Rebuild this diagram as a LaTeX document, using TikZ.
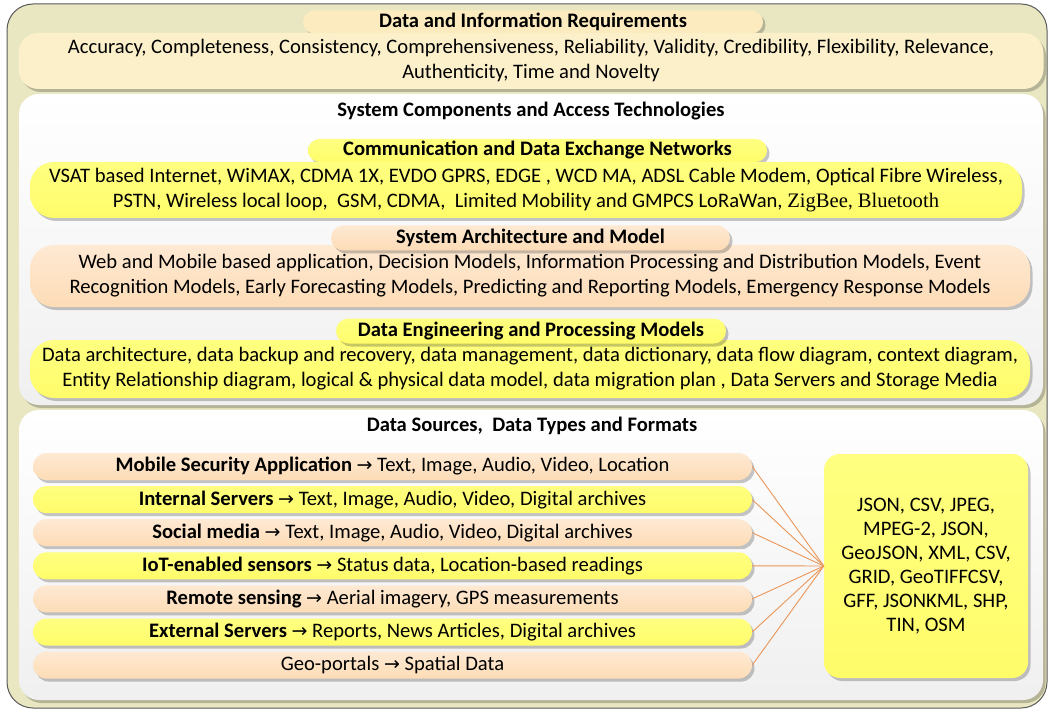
\documentclass[tikz,border=0pt]{standalone}
\usepackage{fontspec}
\setmainfont{Carlito}
\newfontfamily\serifft{Liberation Serif}
\newfontfamily\arrowft{DejaVu Sans}
\usetikzlibrary{shadows}
\definecolor{outerfill}{HTML}{E9E7C1}
\definecolor{outerdraw}{HTML}{5A5A5A}
\definecolor{reqtabc}{HTML}{FCEBBE}
\definecolor{reqbodyc}{HTML}{FCF0CB}
\definecolor{yel}{HTML}{FFFF80}
\definecolor{yeldark}{HTML}{FFFC6A}
\definecolor{peach}{HTML}{FDDCB6}
\definecolor{peachlight}{HTML}{FEE9D3}
\definecolor{linkc}{HTML}{EA9658}
\newcommand{\ar}{{\arrowft\fontsize{19}{19}\selectfont →}}
\tikzset{
  txt/.style={font=\fontsize{20.6}{25}\selectfont, align=center, inner sep=0pt},
  shd/.style={drop shadow={opacity=0.22, shadow xshift=2.5pt, shadow yshift=-3pt, fill=black}},
  panel/.style={rounded corners=20pt, shade, top color=white, bottom color=black!6, shd},
  tabbox/.style={rectangle, rounded corners=11.5pt, minimum height=23pt, shd, txt, font=\bfseries\fontsize{20.6}{25}\selectfont},
  bodybox/.style={rectangle, rounded corners=24pt, shd, txt},
  yelbox/.style={shade, top color=yel, bottom color=yeldark},
  peachbox/.style={shade, top color=peachlight, bottom color=peach},
  rowbox/.style={rectangle, rounded corners=13.5pt, minimum width=719pt, minimum height=27pt, shd, txt},
  link/.style={draw=linkc, line width=0.9pt},
}
\begin{document}
\begin{tikzpicture}[x=1pt,y=-1pt]
\useasboundingbox (0,0) rectangle (1049,711);
% outer frame
\draw[fill=outerfill, draw=outerdraw, line width=1pt, rounded corners=26pt] (7,4) rectangle (1047,708);

% requirements
\node[tabbox, fill=reqtabc, minimum width=460pt] (reqtab) at (533,22) {Data and Information Requirements};
\node[bodybox, fill=reqbodyc, minimum width=1025pt, minimum height=56pt, rounded corners=20pt] (req) at (531,61)
  {Accuracy, Completeness, Consistency, Comprehensiveness, Reliability, Validity, Credibility, Flexibility, Relevance,\\Authenticity, Time and Novelty};

% panel 2
\path[panel] (19,94) rectangle (1043,405);
\node[txt, font=\bfseries\fontsize{20.6}{25}\selectfont] (systitle) at (531,111) {System Components and Access Technologies};

\node[tabbox, yelbox, minimum width=459pt] (commtab) at (537.5,150.5) {Communication and Data Exchange Networks};
\node[bodybox, yelbox, minimum width=992pt, minimum height=56pt] (comm) at (526,190)
  {VSAT based Internet, WiMAX, CDMA 1X, EVDO GPRS, EDGE , WCD MA, ADSL Cable Modem, Optical Fibre Wireless,\\PSTN, Wireless local loop,\ \ GSM, CDMA,\ \ Limited Mobility and GMPCS LoRaWan, {\serifft ZigBee}, {\serifft Bluetooth}};

\node[bodybox, peachbox, minimum width=1000pt, minimum height=62pt] (arch) at (530,276)
  {Web and Mobile based application, Decision Models, Information Processing and Distribution Models, Event\\Recognition Models, Early Forecasting Models, Predicting and Reporting Models, Emergency Response Models};
\node[tabbox, peachbox, minimum width=399pt, minimum height=25pt, rounded corners=12.5pt] (archtab) at (530.5,238) {System Architecture and Model};

\node[bodybox, yelbox, minimum width=1000pt, minimum height=58pt] (eng) at (530,369)
  {Data architecture, data backup and recovery, data management, data dictionary, data flow diagram, context diagram,\\Entity Relationship diagram, logical \& physical data model, data migration plan , Data Servers and Storage Media};
\node[tabbox, yelbox, minimum width=390pt, minimum height=25pt, rounded corners=12.5pt] (engtab) at (531,331) {Data Engineering and Processing Models};

% panel 3
\path[panel] (19,410) rectangle (1043,700);
\node[txt, font=\bfseries\fontsize{20.6}{25}\selectfont] (srctitle) at (532,425.5) {Data Sources,\ \ Data Types and Formats};

\node[rowbox, peachbox] (r1) at (392.5,466.5) {\textbf{Mobile Security Application} \ar\ Text, Image, Audio, Video, Location};
\node[rowbox, yelbox] (r2) at (392.5,499.6) {\textbf{Internal Servers} \ar\ Text, Image, Audio, Video, Digital archives};
\node[rowbox, peachbox] (r3) at (392.5,532.7) {\textbf{Social media} \ar\ Text, Image, Audio, Video, Digital archives};
\node[rowbox, yelbox] (r4) at (392.5,565.8) {\textbf{IoT-enabled sensors} \ar\ Status data, Location-based readings};
\node[rowbox, peachbox] (r5) at (392.5,598.9) {\textbf{Remote sensing} \ar\ Aerial imagery, GPS measurements};
\node[rowbox, yelbox] (r6) at (392.5,632) {\textbf{External Servers} \ar\ Reports, News Articles, Digital archives};
\node[rowbox, peachbox] (r7) at (392.5,665.1) {Geo-portals \ar\ Spatial Data};

\node[rectangle, rounded corners=16pt, yelbox, shd, minimum width=204pt, minimum height=224pt, txt, font=\fontsize{20.6}{24}\selectfont] (fmt) at (926,566)
  {JSON, CSV, JPEG,\\MPEG-2, JSON,\\GeoJSON, XML, CSV,\\GRID, GeoTIFFCSV,\\GFF, JSONKML, SHP,\\TIN, OSM};

\foreach \r in {r1,r2,r3,r4,r5,r6,r7}{
  \draw[link] (\r.east) -- (fmt.west);
}
\end{tikzpicture}
\end{document}
